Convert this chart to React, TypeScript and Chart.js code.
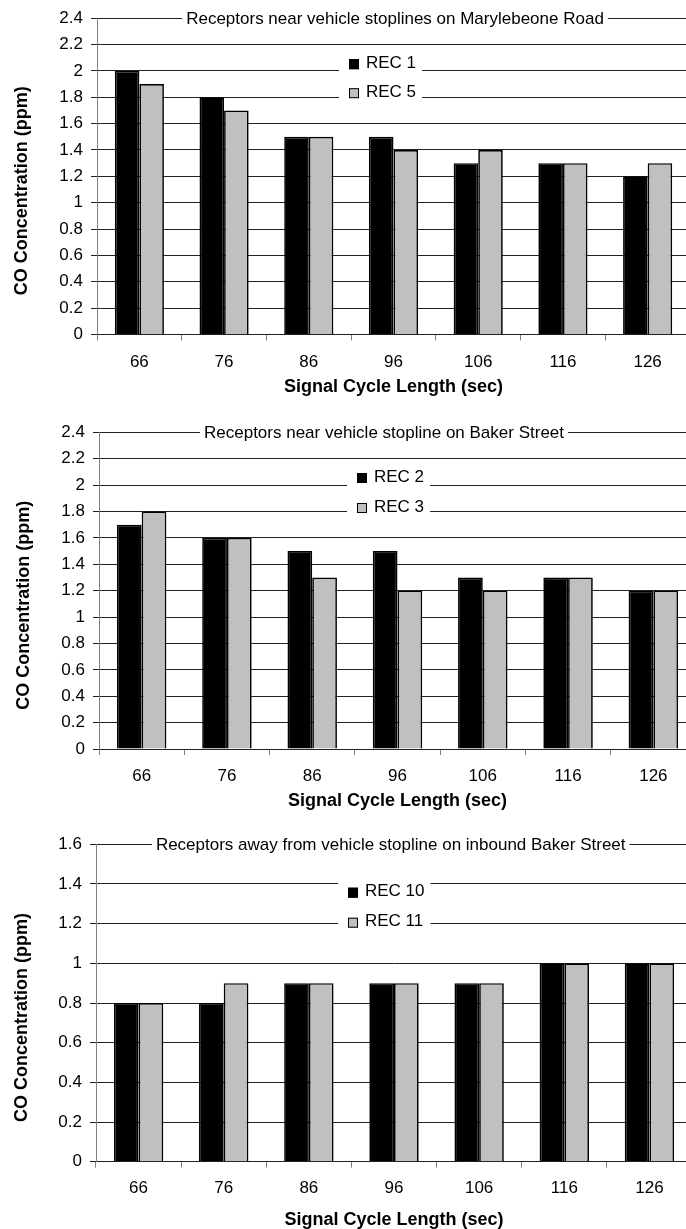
import React, { useEffect, useRef } from 'react';
import { Chart, registerables } from 'chart.js';

Chart.register(...registerables);

// ---------- data ----------
const categories = ['66', '76', '86', '96', '106', '116', '126'];

const rec1 = [2.0, 1.8, 1.5, 1.5, 1.3, 1.3, 1.2];
const rec5 = [1.9, 1.7, 1.5, 1.4, 1.4, 1.3, 1.3];

const rec2 = [1.7, 1.6, 1.5, 1.5, 1.3, 1.3, 1.2];
const rec3 = [1.8, 1.6, 1.3, 1.2, 1.2, 1.3, 1.2];

const rec10 = [0.8, 0.8, 0.9, 0.9, 0.9, 1.0, 1.0];
const rec11 = [0.8, 0.9, 0.9, 0.9, 0.9, 1.0, 1.0];

const panelTitles = [
  'Receptors near vehicle stoplines on Marylebeone Road',
  'Receptors near vehicle stopline on Baker Street',
  'Receptors away from vehicle stopline on inbound Baker Street',
];
const seriesNames = [
  ['REC 1', 'REC 5'],
  ['REC 2', 'REC 3'],
  ['REC 10', 'REC 11'],
];
const seriesValues = [
  [rec1, rec5],
  [rec2, rec3],
  [rec10, rec11],
];
const yMaxes = [2.4, 2.4, 1.6];
const yStep = 0.2;
const yAxisTitle = 'CO Concentration (ppm)';
const xAxisTitle = 'Signal Cycle Length (sec)';

// ---------- styling / layout ----------
const FONT = '"Liberation Sans", Arial, Helvetica, sans-serif';
const COLORS = ['#000000', '#c0c0c0'];

type Layout = {
  top: number;
  height: number;
  width: number;
  yAxisW: number;
  padTop: number;
  xAxisH: number;
  xTickPad: number;
  xTitlePad: number;
  yTitleX: number;
  titleCx: number;
  legendX: number;
  legendDy: number[];
};

const layouts: Layout[] = [
  { top: 0, height: 405, width: 690, yAxisW: 97, padTop: 17.7, xAxisH: 70.5, xTickPad: 11.3, xTitlePad: 9, yTitleX: 22, titleCx: 395, legendX: 349, legendDy: [45, 74] },
  { top: 405, height: 410, width: 696, yAxisW: 99, padTop: 27.3, xAxisH: 66, xTickPad: 10.8, xTitlePad: 5, yTitleX: 24, titleCx: 384, legendX: 357, legendDy: [44.7, 74.7] },
  { top: 815, height: 414, width: 692, yAxisW: 96, padTop: 29.3, xAxisH: 67.3, xTickPad: 10.1, xTitlePad: 0, yTitleX: 22, titleCx: 390.7, legendX: 348, legendDy: [47.4, 77.4] },
];

const overlayPlugin = {
  id: 'overlay',
  afterDraw(chart: any, _args: any, opts: any) {
    const { ctx, chartArea } = chart;
    ctx.save();
    // panel title sitting on the top gridline
    ctx.font = `17px ${FONT}`;
    const tw = ctx.measureText(opts.title).width;
    ctx.fillStyle = '#ffffff';
    ctx.fillRect(opts.titleCx - tw / 2 - 4, chartArea.top - 10, tw + 8, 20);
    ctx.fillStyle = '#000000';
    ctx.textAlign = 'center';
    ctx.textBaseline = 'middle';
    ctx.fillText(opts.title, opts.titleCx, chartArea.top + 1);

    // legend
    const ds = chart.data.datasets;
    ctx.font = `17px ${FONT}`;
    let maxW = 0;
    ds.forEach((d: any) => {
      maxW = Math.max(maxW, ctx.measureText(d.label).width);
    });
    const lx = opts.legendX;
    const y0 = chartArea.top + opts.legendDy[0];
    const y1 = chartArea.top + opts.legendDy[ds.length - 1];
    ctx.fillStyle = '#ffffff';
    ctx.fillRect(lx - 10, y0 - 13, 17 + maxW + 16, y1 - y0 + 26);
    ds.forEach((d: any, i: number) => {
      const yy = chartArea.top + opts.legendDy[i];
      ctx.fillStyle = d.backgroundColor;
      ctx.fillRect(lx, yy - 4, 10, 10);
      ctx.strokeStyle = '#000000';
      ctx.lineWidth = 1;
      ctx.strokeRect(lx + 0.5, yy - 3.5, 9, 9);
      ctx.fillStyle = '#000000';
      ctx.textAlign = 'left';
      ctx.textBaseline = 'middle';
      ctx.fillText(d.label, lx + 17, yy);
    });

    // y axis title
    ctx.translate(opts.yTitleX, (chartArea.top + chartArea.bottom) / 2 + 14.5);
    ctx.rotate(-Math.PI / 2);
    ctx.font = `bold 18px ${FONT}`;
    ctx.textAlign = 'center';
    ctx.textBaseline = 'middle';
    ctx.fillStyle = '#000000';
    ctx.fillText(yAxisTitle, 0, 0);
    ctx.restore();
  },
};

function Panel({ index }: { index: number }) {
  const ref = useRef<HTMLCanvasElement | null>(null);
  const L = layouts[index];

  useEffect(() => {
    if (!ref.current) return;
    const chart = new Chart(ref.current, {
      type: 'bar',
      data: {
        labels: categories,
        datasets: seriesNames[index].map((name, i) => ({
          label: name,
          data: seriesValues[index][i],
          backgroundColor: COLORS[i],
          borderColor: '#000000',
          borderWidth: 1.7,
          categoryPercentage: 0.58,
          barPercentage: 1.0,
        })),
      },
      plugins: [overlayPlugin],
      options: {
        responsive: false,
        animation: false,
        devicePixelRatio: 1,
        layout: { padding: { top: L.padTop, left: 0, right: 0, bottom: 0 } },
        plugins: {
          legend: { display: false },
          title: { display: false },
          tooltip: { enabled: false },
          overlay: {
            title: panelTitles[index],
            titleCx: L.titleCx,
            legendX: L.legendX,
            legendDy: L.legendDy,
            yTitleX: L.yTitleX,
          },
        } as any,
        scales: {
          x: {
            offset: true,
            grid: {
              offset: true,
              drawOnChartArea: false,
              drawTicks: true,
              tickLength: 6,
              color: '#808080',
            },
            border: { display: true, color: '#222222', width: 1 },
            ticks: {
              font: { family: FONT, size: 17 },
              color: '#000000',
              padding: L.xTickPad,
              maxRotation: 0,
              autoSkip: false,
            },
            title: {
              display: true,
              text: xAxisTitle,
              font: { family: FONT, size: 18, weight: 'bold', lineHeight: 1 },
              color: '#000000',
              padding: { top: 0, bottom: L.xTitlePad },
            },
            afterFit: (s: any) => {
              s.height = L.xAxisH;
            },
          },
          y: {
            min: 0,
            max: yMaxes[index],
            grid: {
              color: '#222222',
              lineWidth: 1,
              drawTicks: true,
              tickLength: 6,
            },
            border: { display: true, color: '#808080', width: 1 },
            ticks: {
              stepSize: yStep,
              font: { family: FONT, size: 17 },
              color: '#000000',
              padding: 8,
              callback: (v: any) => String(Number(Number(v).toFixed(1))),
            },
            afterFit: (s: any) => {
              s.width = L.yAxisW;
            },
          },
        },
      } as any,
    });
    return () => chart.destroy();
  }, [index]);

  return (
    <canvas
      ref={ref}
      width={L.width}
      height={L.height}
      style={{ position: 'absolute', left: 0, top: L.top, width: L.width, height: L.height, display: 'block' }}
    />
  );
}

export default function App() {
  return (
    <div
      style={{
        position: 'absolute',
        left: 0,
        top: 0,
        width: 686,
        height: 1229,
        overflow: 'hidden',
        background: '#ffffff',
      }}
    >
      <Panel index={0} />
      <Panel index={1} />
      <Panel index={2} />
    </div>
  );
}
